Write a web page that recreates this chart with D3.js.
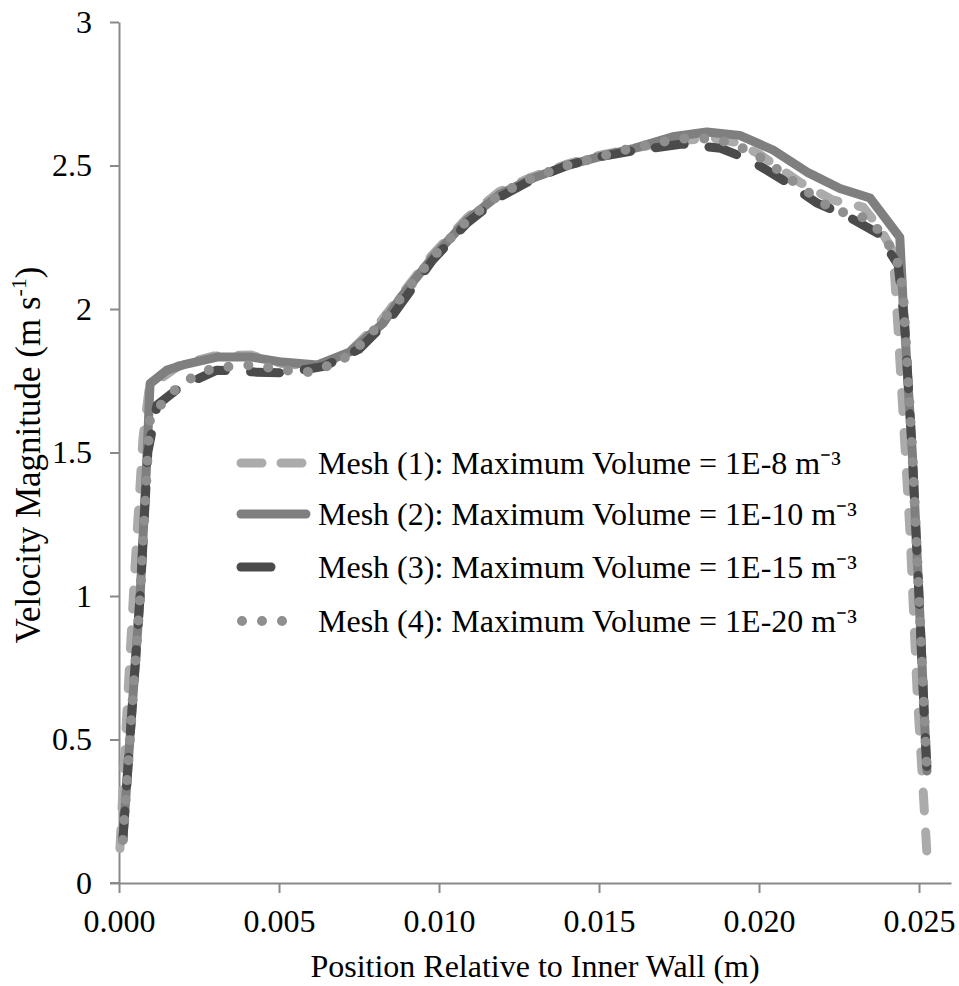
<!DOCTYPE html>
<html>
<head>
<meta charset="utf-8">
<script src="https://cdn.jsdelivr.net/npm/d3@7"></script>
<style>
  html, body { margin: 0; padding: 0; background: #fff; }
  svg text { font-family: "Liberation Serif", "Times New Roman", serif; fill: #000; }
</style>
</head>
<body>
<svg id="chart" width="959" height="986"></svg>
<script>
// Velocity magnitude profiles across the gap for four mesh refinements
const mesh1X = [0.00003, 0.00025, 0.0005, 0.00075, 0.00095, 0.0019, 0.00295, 0.0041, 0.0051, 0.0062, 0.0072, 0.0082, 0.0098, 0.0109, 0.0119, 0.0129, 0.0140, 0.0150, 0.0161, 0.0173, 0.0186, 0.0193, 0.0200, 0.0213, 0.0223, 0.02325, 0.02375, 0.02419, 0.02434, 0.02472, 0.02494, 0.02525];
const mesh1Y = [0.12, 0.60, 1.10, 1.55, 1.73, 1.805, 1.836, 1.84, 1.81, 1.80, 1.85, 1.96, 2.19, 2.32, 2.41, 2.46, 2.505, 2.535, 2.56, 2.585, 2.595, 2.58, 2.54, 2.44, 2.38, 2.355, 2.286, 2.20, 1.94, 1.22, 0.67, 0.10];

const mesh2X = [0.00012, 0.00034, 0.00066, 0.00088, 0.00097, 0.0015, 0.0020, 0.0031, 0.0041, 0.0051, 0.0062, 0.0072, 0.00825, 0.0088, 0.0098, 0.01088, 0.0119, 0.01294, 0.0140, 0.0150, 0.0161, 0.0173, 0.01837, 0.0194, 0.02044, 0.0215, 0.02253, 0.02347, 0.0244, 0.0245, 0.02479, 0.0250, 0.0252, 0.02525];
const mesh2Y = [0.15, 0.50, 1.00, 1.50, 1.74, 1.787, 1.805, 1.833, 1.833, 1.815, 1.805, 1.85, 1.95, 2.04, 2.18, 2.31, 2.40, 2.456, 2.50, 2.53, 2.56, 2.60, 2.617, 2.605, 2.554, 2.477, 2.42, 2.387, 2.25, 2.03, 1.50, 1.00, 0.50, 0.39];

const mesh3X = [0.00012, 0.00034, 0.00066, 0.0009, 0.00119, 0.0019, 0.00306, 0.0043, 0.0052, 0.0064, 0.0075, 0.0085, 0.0098, 0.01088, 0.0119, 0.0129, 0.0140, 0.0150, 0.0160, 0.0176, 0.0188, 0.0197, 0.0208, 0.0218, 0.0227, 0.0237, 0.02435, 0.02455, 0.02479, 0.0250, 0.0252, 0.02525];
const mesh3Y = [0.15, 0.50, 1.00, 1.50, 1.665, 1.728, 1.787, 1.78, 1.777, 1.80, 1.86, 1.97, 2.17, 2.30, 2.39, 2.45, 2.50, 2.53, 2.55, 2.575, 2.56, 2.52, 2.446, 2.37, 2.327, 2.265, 2.153, 1.95, 1.50, 1.00, 0.50, 0.39];

const mesh4X = [0.00012, 0.00034, 0.00066, 0.0009, 0.00097, 0.00138, 0.00181, 0.00231, 0.00294, 0.00353, 0.00416, 0.00478, 0.0054, 0.00603, 0.0066, 0.00716, 0.00763, 0.00806, 0.00847, 0.0098, 0.0109, 0.0119, 0.0129, 0.0140, 0.0150, 0.0160, 0.0167, 0.0173, 0.0179, 0.0186, 0.0192, 0.0198, 0.0203, 0.0208, 0.0213, 0.0218, 0.0223, 0.0229, 0.0235, 0.02388, 0.02425, 0.0244, 0.0245, 0.02479, 0.0250, 0.0252, 0.02525];
const mesh4Y = [0.15, 0.50, 1.00, 1.50, 1.62, 1.676, 1.725, 1.763, 1.794, 1.80, 1.805, 1.794, 1.784, 1.78, 1.805, 1.836, 1.885, 1.937, 1.99, 2.18, 2.31, 2.40, 2.456, 2.50, 2.53, 2.56, 2.575, 2.59, 2.596, 2.592, 2.575, 2.544, 2.51, 2.467, 2.425, 2.387, 2.345, 2.331, 2.31, 2.25, 2.195, 2.13, 2.06, 1.50, 1.00, 0.50, 0.39];

const seriesNames = [
  "Mesh (1): Maximum Volume = 1E-8 m\u207B\u00B3",
  "Mesh (2): Maximum Volume = 1E-10 m\u207B\u00B3",
  "Mesh (3): Maximum Volume = 1E-15 m\u207B\u00B3",
  "Mesh (4): Maximum Volume = 1E-20 m\u207B\u00B3"
];
const xTicks = [0, 0.005, 0.010, 0.015, 0.020, 0.025];
const yTicks = [0, 0.5, 1, 1.5, 2, 2.5, 3];

const series = [
  { name: seriesNames[0], xs: mesh1X, ys: mesh1Y, color: "#ababab", width: 9, dash: "19,21" },
  { name: seriesNames[1], xs: mesh2X, ys: mesh2Y, color: "#7f7f7f", width: 9, dash: null },
  { name: seriesNames[2], xs: mesh3X, ys: mesh3Y, color: "#4b4b4b", width: 9, dash: "29,25" },
  { name: seriesNames[3], xs: mesh4X, ys: mesh4Y, color: "#8f8f8f", width: 10, dash: "0,20" }
];

const svg = d3.select("#chart");
const x = d3.scaleLinear().domain([0, 0.026]).range([119, 951]);
const y = d3.scaleLinear().domain([0, 3]).range([883, 22]);
const axisColor = "#898989";

// X axis
const gx = svg.append("g").attr("transform", `translate(0,${y(0)})`)
  .call(d3.axisBottom(x).tickValues(xTicks).tickFormat(d3.format(".3f")).tickSize(10).tickPadding(16).tickSizeOuter(0));
// Y axis
const gy = svg.append("g").attr("transform", `translate(${x(0)},0)`)
  .call(d3.axisLeft(y).tickValues(yTicks).tickFormat(d => d3.format("")(d)).tickSize(9).tickPadding(18).tickSizeOuter(0));

[gx, gy].forEach(g => {
  g.attr("font-family", "Liberation Serif");
  g.select(".domain").attr("stroke", axisColor).attr("stroke-width", 2);
  g.selectAll(".tick line").attr("stroke", axisColor).attr("stroke-width", 2);
  g.selectAll(".tick text").attr("font-size", 32).attr("fill", "#000");
});
// extend x axis line left to meet the zero tick
svg.append("line").attr("x1", 110).attr("x2", x(0)).attr("y1", y(0)).attr("y2", y(0))
  .attr("stroke", axisColor).attr("stroke-width", 2);

// Lines
const line = d3.line().x(d => x(d[0])).y(d => y(d[1]));
series.forEach(s => {
  const pts = s.xs.map((v, i) => [v, s.ys[i]]);
  const p = svg.append("path").datum(pts)
    .attr("d", line)
    .attr("fill", "none")
    .attr("stroke", s.color)
    .attr("stroke-width", s.width)
    .attr("stroke-linecap", "round")
    .attr("stroke-linejoin", "round");
  if (s.dash) p.attr("stroke-dasharray", s.dash);
});

// Legend
const legendRows = [463, 514, 567, 621];
series.forEach((s, i) => {
  const ly = legendRows[i];
  const sym = svg.append("line")
    .attr("x1", 241).attr("x2", 306).attr("y1", ly).attr("y2", ly)
    .attr("stroke", s.color).attr("stroke-width", s.width)
    .attr("stroke-linecap", "round");
  if (i === 0) sym.attr("stroke-dasharray", "21,19");
  if (i === 2) sym.attr("x2", 271);
  if (i === 3) sym.attr("x1", 242).attr("x2", 302).attr("stroke-dasharray", "0,20");
  svg.append("text").attr("x", 318).attr("y", ly + 11)
    .attr("font-size", 32).text(s.name);
});

// Axis titles
svg.append("text").attr("x", 535).attr("y", 977).attr("text-anchor", "middle")
  .attr("font-size", 32).text("Position Relative to Inner Wall (m)");
const yt = svg.append("text").attr("transform", "translate(40,455) rotate(-90)")
  .attr("text-anchor", "middle").attr("font-size", 35);
yt.append("tspan").text("Velocity Magnitude (m s");
yt.append("tspan").attr("font-size", 22).attr("dy", -14).text("-1");
yt.append("tspan").attr("dy", 14).text(")");
</script>
</body>
</html>
